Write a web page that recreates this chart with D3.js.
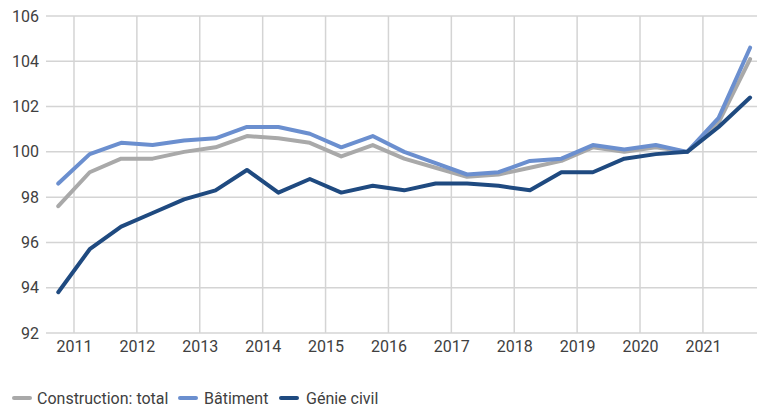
<!DOCTYPE html>
<html><head><meta charset="utf-8">
<script src="https://cdn.jsdelivr.net/npm/d3@7"></script>
<style>body{margin:0;background:#fff;} svg{display:block;font-family:Roboto, "Noto Sans", sans-serif;}</style>
</head><body>
<svg id="c" width="757" height="410"></svg>
<script>
const periods = [2010.75,2011.25,2011.75,2012.25,2012.75,2013.25,2013.75,2014.25,2014.75,2015.25,2015.75,2016.25,2016.75,2017.25,2017.75,2018.25,2018.75,2019.25,2019.75,2020.25,2020.75,2021.25,2021.75];
const total =    [97.6,99.1,99.7,99.7,100.0,100.2,100.7,100.6,100.4,99.8,100.3,99.7,99.3,98.9,99.0,99.3,99.6,100.2,100.0,100.2,100.0,101.3,104.1];
const batiment = [98.6,99.9,100.4,100.3,100.5,100.6,101.1,101.1,100.8,100.2,100.7,100.0,99.5,99.0,99.1,99.6,99.7,100.3,100.1,100.3,100.0,101.5,104.6];
const genie =    [93.8,95.7,96.7,97.3,97.9,98.3,99.2,98.2,98.8,98.2,98.5,98.3,98.6,98.6,98.5,98.3,99.1,99.1,99.7,99.9,100.0,101.1,102.4];
const yearTicks = [2011,2012,2013,2014,2015,2016,2017,2018,2019,2020,2021];
const yTicks = [92,94,96,98,100,102,104,106];
const seriesNames = ["Construction: total","Bâtiment","Génie civil"];
const colors = ["#a9a9a9","#6b8fcf","#1f4a80"];

const svg = d3.select("#c");
const x = d3.scaleLinear().domain([2010.555, 2021.86]).range([46, 757]);
const y = d3.scaleLinear().domain([92, 106]).range([333, 16]);

svg.append("g").selectAll("line").data(yTicks).join("line")
  .attr("x1", 46).attr("x2", 757).attr("y1", d=>y(d)).attr("y2", d=>y(d))
  .attr("stroke", "#d4d4d4").attr("stroke-width", 1.5);
svg.append("g").selectAll("line").data(yearTicks).join("line")
  .attr("x1", d=>x(d)).attr("x2", d=>x(d)).attr("y1", y(106)).attr("y2", y(92))
  .attr("stroke", "#d4d4d4").attr("stroke-width", 1.5);

const yAxis = d3.axisLeft(y).tickValues(yTicks).tickSize(0).tickPadding(7);
const ga = svg.append("g").attr("transform", "translate(46,0)").call(yAxis);
ga.select(".domain").remove();
ga.selectAll("text").attr("font-size", 16).attr("fill", "#404040").attr("font-family", "Roboto");

const xAxis = d3.axisBottom(x).tickValues(yearTicks).tickFormat(d3.format("d")).tickSize(0).tickPadding(8);
const gx = svg.append("g").attr("transform", `translate(0,${y(92)})`).call(xAxis);
gx.select(".domain").remove();
gx.selectAll("text").attr("font-size", 16).attr("fill", "#404040").attr("font-family", "Roboto");

const line = d3.line().x((d,i)=>x(periods[i])).y(d=>y(d));
[total, batiment, genie].forEach((s,k)=>{
  svg.append("path").datum(s).attr("d", line).attr("fill","none")
    .attr("stroke", colors[k]).attr("stroke-width", 4)
    .attr("stroke-linejoin","round").attr("stroke-linecap","round");
});

const legX = [14, 180, 281];
const textX = [37, 204, 306];
const lg = svg.append("g");
seriesNames.forEach((n,k)=>{
  lg.append("line").attr("x1", legX[k]).attr("x2", legX[k]+16).attr("y1", 398).attr("y2", 398)
    .attr("stroke", colors[k]).attr("stroke-width", 4).attr("stroke-linecap","round");
  lg.append("text").attr("x", textX[k]).attr("y", 398).attr("dy","0.35em")
    .attr("font-size", 16).attr("fill", "#404040").text(n);
});
</script>
</body></html>
